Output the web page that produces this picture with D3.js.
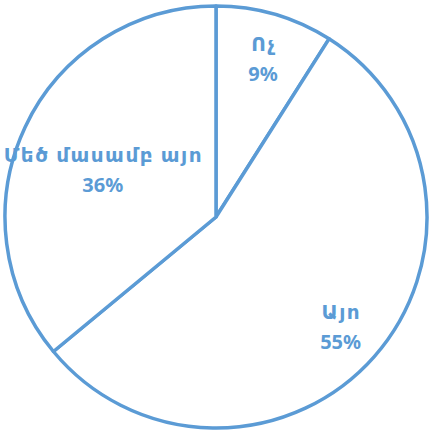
<!DOCTYPE html>
<html>
<head>
<meta charset="utf-8">
<script src="https://cdn.jsdelivr.net/npm/d3@7"></script>
<style>
	body { margin: 0; background: #fff; }
	text { font-family: "Noto Sans", "DejaVu Sans", sans-serif; font-weight: bold; fill: #5B9BD5; }
</style>
</head>
<body>
<script>
var SIZE = { width: 429, height: 435 };

var categories = ['Ոչ', 'Այո', 'Մեծ մասամբ այո'];
var values = [9, 55, 36];
var labels = ['9%', '55%', '36%'];

var color = '#5B9BD5';
var cx = 216, cy = 217, radius = 211;

var svg = d3.select('body')
	.append('svg')
	.attr('width', SIZE.width)
	.attr('height', SIZE.height);

var g = svg.append('g')
	.attr('transform', 'translate(' + cx + ',' + cy + ')');

var pie = d3.pie().sort(null).value(function (d) { return d; });
var arcs = pie(values);

var arc = d3.arc().innerRadius(0).outerRadius(radius);

g.selectAll('path')
	.data(arcs)
	.enter()
	.append('path')
	.attr('d', arc)
	.attr('fill', '#fff')
	.attr('stroke', color)
	.attr('stroke-width', 3.5)
	.attr('stroke-linejoin', 'round');

// label anchor: radius fraction and small angle nudge (degrees) per slice
var labelRadius = [0.79, 0.78, 0.585];
var labelNudge = [0.2, -0.6, -1.8];
var labelPos = function (d, i) {
	var a = (d.startAngle + d.endAngle) / 2 + labelNudge[i] * Math.PI / 180;
	var r = radius * labelRadius[i];
	return [Math.sin(a) * r, -Math.cos(a) * r];
};

var lbl = g.selectAll('g.label')
	.data(arcs)
	.enter()
	.append('g')
	.attr('class', 'label')
	.attr('transform', function (d, i) {
		var p = labelPos(d, i);
		return 'translate(' + p[0] + ',' + p[1] + ')';
	});

lbl.append('text')
	.attr('text-anchor', 'middle')
	.attr('x', 0.7)
	.attr('y', -6)
	.style('font-size', '20px')
	.style('letter-spacing', '1.5px')
	.text(function (d, i) { return categories[i]; });

lbl.append('text')
	.attr('text-anchor', 'middle')
	.attr('y', 24)
	.style('font-size', '20px')
	.text(function (d, i) { return labels[i]; });
</script>
</body>
</html>
